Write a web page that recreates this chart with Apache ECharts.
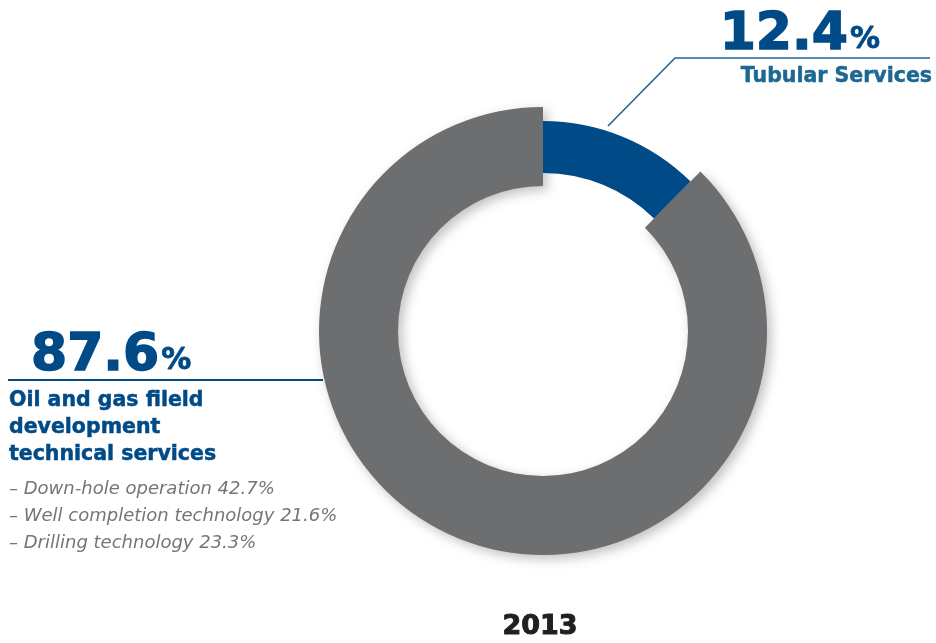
<!DOCTYPE html>
<html>
<head>
<meta charset="utf-8">
<script src="https://cdn.jsdelivr.net/npm/echarts@6/dist/echarts.min.js"></script>
<style>
  html, body { margin: 0; padding: 0; background: #fff; }
  #chart { width: 936px; height: 643px; }
</style>
</head>
<body>
<div id="chart"></div>
<script>
const segments = ['Tubular Services', 'Oil and gas fileld development technical services']
const shares = [12.4, 87.6]
const shareLabels = ['12.4', '87.6']
const oilTitleLines = ['Oil and gas fileld', 'development', 'technical services']
const oilDetails = [
  '– Down-hole operation 42.7%',
  '– Well completion technology 21.6%',
  '– Drilling technology 23.3%',
]
const year = '2013'

const BLUE = '#004b87'
const TEAL = '#1d6792'
const GRAY = '#6d6e70'
const FONT = '"DejaVu Sans", sans-serif'

const chart = echarts.init(document.getElementById('chart'), null, { renderer: 'canvas' })

const center = [543, 331]

function bigShare(x, y, align, value) {
  return {
    type: 'text',
    x,
    y,
    style: {
      text: '{a|' + value + '}{b|%}',
      align,
      verticalAlign: 'middle',
      rich: {
        a: {
          fontFamily: FONT, fontWeight: 'bold', fontSize: 52, fill: BLUE,
          stroke: BLUE, lineWidth: 1.5,
        },
        b: {
          fontFamily: FONT, fontWeight: 'bold', fontSize: 30, fill: BLUE,
          stroke: BLUE, lineWidth: 0.8, padding: [10, 0, 0, 2],
        },
      },
    },
  }
}

const option = {
  animation: false,
  backgroundColor: '#fff',
  series: [
    {
      // wide gray ring (the big share)
      type: 'pie',
      center: center,
      radius: [145, 224],
      startAngle: 90,
      clockwise: true,
      silent: true,
      label: { show: false },
      labelLine: { show: false },
      data: segments.map((name, i) => ({
        name,
        value: shares[i],
        itemStyle: i === 1
          ? {
              color: GRAY,
              shadowBlur: 12,
              shadowColor: 'rgba(0,0,0,0.25)',
              shadowOffsetX: 4,
              shadowOffsetY: 4,
            }
          : { color: 'rgba(0,0,0,0)' },
      })),
    },
    {
      // thinner blue ring (the small share)
      type: 'pie',
      center: center,
      radius: [158, 210],
      startAngle: 90,
      clockwise: true,
      silent: true,
      label: { show: false },
      labelLine: { show: false },
      data: segments.map((name, i) => ({
        name,
        value: shares[i],
        itemStyle: { color: i === 0 ? BLUE : 'rgba(0,0,0,0)' },
      })),
    },
  ],
  graphic: [
    // leader line to Tubular Services
    {
      type: 'polyline',
      shape: { points: [[608, 126], [675, 58], [930, 58]] },
      style: { stroke: TEAL, lineWidth: 1.6, fill: null },
    },
    bigShare(880, 35, 'right', shareLabels[0]),
    {
      type: 'text',
      x: 932,
      y: 77,
      style: {
        text: segments[0],
        align: 'right',
        verticalAlign: 'middle',
        fontFamily: FONT,
        fontWeight: 'bold',
        fontSize: 20.5,
        fill: TEAL,
        stroke: TEAL,
        lineWidth: 0.5,
      },
    },
    // leader line to oil and gas
    {
      type: 'line',
      shape: { x1: 8, y1: 380, x2: 323, y2: 380 },
      style: { stroke: BLUE, lineWidth: 2 },
    },
    bigShare(31, 356, 'left', shareLabels[1]),
    ...oilTitleLines.map((line, i) => ({
      type: 'text',
      x: 9,
      y: 401 + i * 27,
      style: {
        text: line,
        align: 'left',
        verticalAlign: 'middle',
        fontFamily: FONT,
        fontWeight: 'bold',
        fontSize: 20.5,
        fill: BLUE,
        stroke: BLUE,
        lineWidth: 0.5,
      },
    })),
    ...oilDetails.map((line, i) => ({
      type: 'text',
      x: 9,
      y: 489 + i * 27,
      style: {
        text: line,
        align: 'left',
        verticalAlign: 'middle',
        fontFamily: FONT,
        fontStyle: 'italic',
        fontWeight: 'normal',
        fontSize: 18,
        fill: '#747577',
      },
    })),
    {
      type: 'text',
      x: 540,
      y: 627,
      style: {
        text: year,
        align: 'center',
        verticalAlign: 'middle',
        fontFamily: FONT,
        fontWeight: 'bold',
        fontSize: 27,
        fill: '#231f20',
        stroke: '#231f20',
        lineWidth: 1,
      },
    },
  ],
}

chart.setOption(option)
</script>
</body>
</html>
